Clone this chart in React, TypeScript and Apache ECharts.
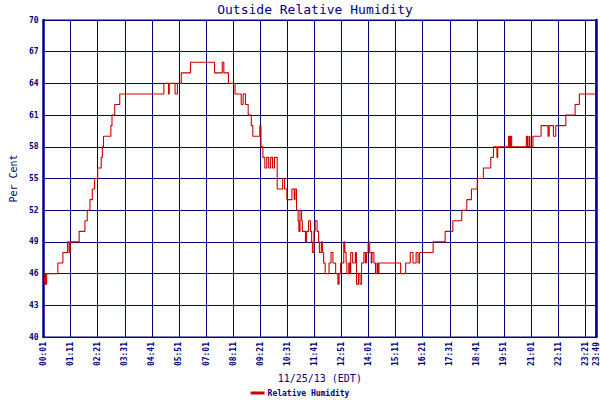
import React, { useEffect, useRef } from 'react';
import * as echarts from 'echarts';

// minutes after 00:01 at which the reading changes, and the new reading (%)
const changeTimes = [
  0, 3, 5, 8, 37, 50, 62, 66, 69, 92, 107, 113, 120, 126, 132, 140, 149, 152, 155, 174,
  177, 184, 197, 311, 323, 325, 340, 346, 356, 380, 442, 462, 466, 478, 495, 511, 516, 522, 529, 537,
  541, 559, 562, 567, 572, 577, 582, 587, 592, 597, 604, 618, 623, 629, 642, 648, 650, 654, 658, 660,
  663, 667, 669, 677, 680, 685, 690, 693, 695, 699, 702, 707, 711, 713, 718, 721, 724, 728, 738, 743,
  748, 755, 761, 764, 768, 776, 779, 782, 784, 789, 792, 794, 799, 806, 809, 814, 818, 822, 828, 832,
  835, 839, 843, 847, 849, 854, 858, 862, 864, 867, 923, 936, 948, 955, 963, 968, 972, 1007, 1038, 1058,
  1081, 1094, 1106, 1121, 1137, 1156, 1163, 1172, 1174, 1202, 1205, 1207, 1210, 1248, 1251, 1255, 1257, 1265, 1286, 1304,
  1307, 1318, 1324, 1350, 1374, 1385, 1428
];
const humidity = [
  45, 46, 45, 46, 47, 48, 49, 48, 49, 50, 51, 52, 53, 54, 55, 56, 57, 58, 59, 60,
  61, 62, 63, 64, 63, 64, 63, 64, 65, 66, 65, 66, 65, 64, 63, 62, 63, 62, 61, 60,
  59, 60, 58, 57, 56, 57, 56, 57, 56, 57, 54, 55, 54, 53, 54, 53, 54, 52, 51, 50,
  52, 51, 50, 49, 50, 51, 50, 49, 48, 50, 51, 50, 49, 48, 49, 48, 47, 46, 47, 48,
  47, 46, 45, 46, 47, 49, 48, 47, 46, 47, 46, 48, 47, 48, 45, 46, 45, 47, 48, 47,
  48, 49, 48, 47, 48, 47, 46, 47, 46, 47, 46, 47, 48, 47, 48, 47, 48, 49, 50, 51,
  52, 53, 54, 55, 56, 57, 58, 57, 58, 59, 58, 59, 58, 59, 58, 59, 58, 59, 60, 59,
  60, 59, 60, 61, 62, 63, 63
];

const navy = '#000080';
const mono = '"DejaVu Sans Mono", "Liberation Mono", monospace';

const clock = (v: number) => {
  const m = Math.round(v) + 1;
  const hh = String(Math.floor(m / 60)).padStart(2, '0');
  const mm = String(m % 60).padStart(2, '0');
  return `${hh}:${mm}`;
};

export default function App() {
  const chartRef = useRef<HTMLDivElement>(null);

  useEffect(() => {
    if (!chartRef.current) return;
    const chart = echarts.init(chartRef.current, undefined, { renderer: 'svg' });

    const option: echarts.EChartsOption = {
      animation: false,
      backgroundColor: '#ffffff',
      graphic: [
        {
          type: 'text',
          x: 315,
          y: 9,
          style: {
            text: 'Outside Relative Humidity',
            fill: navy,
            font: `13px ${mono}`,
            textAlign: 'center',
            textVerticalAlign: 'middle'
          }
        }
      ],
      legend: {
        data: ['Relative Humidity'],
        left: 'center',
        top: 388,
        padding: 0,
        icon: 'rect',
        itemWidth: 14,
        itemHeight: 3,
        itemGap: 4,
        textStyle: {
          color: navy,
          fontFamily: mono,
          fontSize: 8,
          fontWeight: 'bold',
          lineHeight: 10,
          padding: [0, 0, 0, -2]
        }
      },
      grid: {
        left: 32,
        right: 2,
        top: 20,
        bottom: 63,
        show: true,
        borderColor: navy,
        borderWidth: 1
      },
      xAxis: {
        type: 'value',
        min: 0,
        max: 1428,
        interval: 70,
        name: '11/25/13 (EDT)',
        nameLocation: 'middle',
        nameGap: 34,
        nameTextStyle: { color: navy, fontFamily: mono, fontSize: 10 },
        axisLine: { show: true, lineStyle: { color: navy, width: 1 } },
        axisTick: { show: false },
        axisLabel: {
          rotate: 90,
          margin: 5,
          color: navy,
          fontFamily: mono,
          fontSize: 8,
          fontWeight: 'bold',
          showMinLabel: true,
          showMaxLabel: true,
          formatter: (v: number) => clock(v)
        },
        splitLine: { show: true, lineStyle: { color: navy, width: 1 } }
      },
      yAxis: [
        {
          type: 'value',
          min: 40,
          max: 70,
          interval: 3,
          name: 'Per Cent',
          nameLocation: 'middle',
          nameRotate: 90,
          nameGap: 24,
          nameTextStyle: { color: navy, fontFamily: mono, fontSize: 10 },
          axisLine: { show: true, lineStyle: { color: navy, width: 2.5 } },
          axisTick: { show: false },
          axisLabel: { color: navy, fontFamily: mono, fontSize: 8, fontWeight: 'bold', margin: 5 },
          splitLine: { show: true, lineStyle: { color: navy, width: 1 } }
        },
        {
          type: 'value',
          position: 'right',
          min: 40,
          max: 70,
          interval: 3,
          axisLine: { show: true, lineStyle: { color: navy, width: 2.5 } },
          axisTick: { show: false },
          axisLabel: { show: false },
          splitLine: { show: false }
        }
      ],
      series: [
        {
          name: 'Relative Humidity',
          type: 'line',
          step: 'end',
          symbol: 'none',
          data: changeTimes.map((t, i) => [t, humidity[i]]),
          lineStyle: { color: '#cc0000', width: 1.1 },
          itemStyle: { color: '#cc0000' }
        }
      ]
    };

    chart.setOption(option);
    return () => chart.dispose();
  }, []);

  return (
    <div
      ref={chartRef}
      style={{ position: 'fixed', left: 0, top: 0, width: 600, height: 400 }}
    />
  );
}
